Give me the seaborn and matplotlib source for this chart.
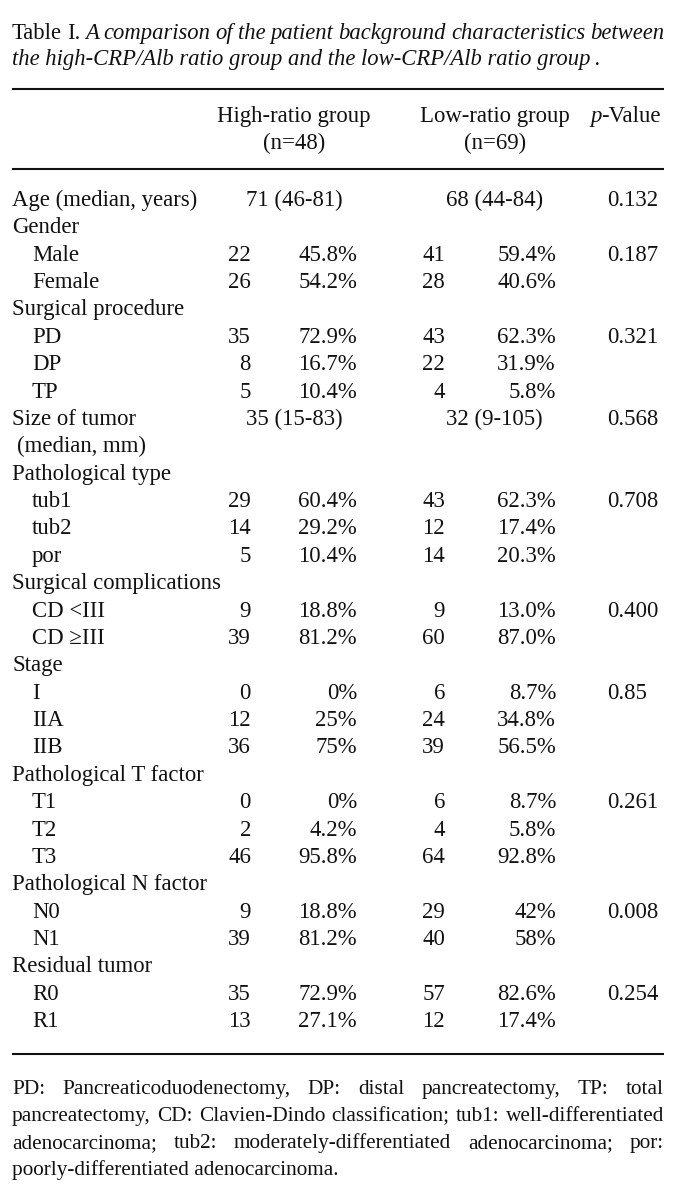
import matplotlib
matplotlib.use("Agg")
import matplotlib.pyplot as plt
import seaborn as sns

# --------------------------------------------------
# Table data
# --------------------------------------------------

row_labels = ["Age (median, years)", "Gender", "Male", "Female",
              "Surgical procedure", "PD", "DP", "TP",
              "Size of tumor", "(median, mm)",
              "Pathological type", "tub1", "tub2", "por",
              "Surgical complications", "CD <III", "CD \u2265III",
              "Stage", "I", "IIA", "IIB",
              "Pathological T factor", "T1", "T2", "T3",
              "Pathological N factor", "N0", "N1",
              "Residual tumor", "R0", "R1"]
# 0 = heading, 1 = sub item, 2 = wrapped heading
row_level = [0, 0, 1, 1, 0, 1, 1, 1, 0, 2, 0, 1, 1, 1, 0, 1, 1,
             0, 1, 1, 1, 0, 1, 1, 1, 0, 1, 1, 0, 1, 1]

high_median = {0: "71 (46-81)", 8: "35 (15-83)"}
low_median = {0: "68 (44-84)", 8: "32 (9-105)"}

high_n = ["", "", "22", "26", "", "35", "8", "5", "", "", "", "29", "14", "5",
          "", "9", "39", "", "0", "12", "36", "", "0", "2", "46", "", "9", "39",
          "", "35", "13"]
high_pct = ["", "", "45.8%", "54.2%", "", "72.9%", "16.7%", "10.4%", "", "",
            "", "60.4%", "29.2%", "10.4%", "", "18.8%", "81.2%", "", "0%",
            "25%", "75%", "", "0%", "4.2%", "95.8%", "", "18.8%", "81.2%",
            "", "72.9%", "27.1%"]
low_n = ["", "", "41", "28", "", "43", "22", "4", "", "", "", "43", "12", "14",
         "", "9", "60", "", "6", "24", "39", "", "6", "4", "64", "", "29", "40",
         "", "57", "12"]
low_pct = ["", "", "59.4%", "40.6%", "", "62.3%", "31.9%", "5.8%", "", "",
           "", "62.3%", "17.4%", "20.3%", "", "13.0%", "87.0%", "", "8.7%",
           "34.8%", "56.5%", "", "8.7%", "5.8%", "92.8%", "", "42%", "58%",
           "", "82.6%", "17.4%"]
p_values = {0: "0.132", 2: "0.187", 5: "0.321", 8: "0.568", 11: "0.708",
            15: "0.400", 18: "0.85", 22: "0.261", 26: "0.008", 29: "0.254"}

title_line1 = [("Table", "normal"), ("I.", "normal"), ("A", "italic"),
               ("comparison", "italic"), ("of", "italic"), ("the", "italic"),
               ("patient", "italic"), ("background", "italic"),
               ("characteristics", "italic"), ("between", "italic")]
title_line2 = "the high-CRP/Alb ratio group and the low-CRP/Alb ratio group\u2009."

footnote = ["PD: Pancreaticoduodenectomy, DP: distal pancreatectomy, TP: total",
            "pancreatectomy, CD: Clavien-Dindo classification; tub1: well-differentiated",
            "adenocarcinoma; tub2: moderately-differentiated adenocarcinoma; por:",
            "poorly-differentiated adenocarcinoma."]

# --------------------------------------------------
# Figure setup
# --------------------------------------------------

sns.set_theme(style="white")
plt.rcParams["font.family"] = ["Liberation Serif", "DejaVu Serif"]

ink = "#111111"
body_size = 16.4
left, right = 12, 664

fig = plt.figure(figsize=(6.78, 11.98), dpi=100)
ax = fig.add_axes([0, 0, 1, 1])
ax.set_xlim(0, 678)
ax.set_ylim(1198, 0)
ax.axis("off")
renderer = fig.canvas.get_renderer()


def fit_size(text, target, style="normal", base=16.0):
    # font size that makes one line of text about target pixels wide
    t = ax.text(0, 0, text, fontsize=base, style=style)
    w = t.get_window_extent(renderer).width
    t.remove()
    return base * target / w


def justify(words, y, size):
    # words: list of (text, style); spread between left and right margins
    texts = [ax.text(0, y, w, fontsize=size, style=s, color=ink, va="baseline")
             for w, s in words]
    widths = [t.get_window_extent(renderer).width for t in texts]
    gap = (right - left - sum(widths)) / (len(texts) - 1)
    x = left
    for t, w in zip(texts, widths):
        t.set_x(x)
        x += w + gap


title_size = fit_size(title_line2, 590, style="italic")
note_size = fit_size(footnote[1], 648)

# title
justify(title_line1, 39, title_size)
ax.text(left, 65, title_line2, fontsize=title_size, style="italic",
        color=ink, va="baseline")

# rules
ax.hlines([89, 169, 1054], left, right, color=ink, lw=1.5)

# header
ax.text(294, 122, "High-ratio group", fontsize=body_size, ha="center",
        va="baseline", color=ink)
ax.text(294, 149, "(n=48)", fontsize=body_size, ha="center",
        va="baseline", color=ink)
ax.text(495, 122, "Low-ratio group", fontsize=body_size, ha="center",
        va="baseline", color=ink)
ax.text(495, 149, "(n=69)", fontsize=body_size, ha="center",
        va="baseline", color=ink)
p_txt = ax.text(590, 122, "p", fontsize=body_size, style="italic",
                va="baseline", color=ink)
pw = p_txt.get_window_extent(renderer).width
ax.text(590 + pw, 122, "-Value", fontsize=body_size, va="baseline", color=ink)

# body rows
indent_x = {0: left, 1: 32, 2: 17}
row_step = 27.37
for i, label in enumerate(row_labels):
    y = 206 + i * row_step
    ax.text(indent_x[row_level[i]], y, label, fontsize=body_size,
            va="baseline", color=ink)
    ax.text(251, y, high_n[i], fontsize=body_size, ha="right",
            va="baseline", color=ink)
    ax.text(357, y, high_pct[i], fontsize=body_size, ha="right",
            va="baseline", color=ink)
    ax.text(445, y, low_n[i], fontsize=body_size, ha="right",
            va="baseline", color=ink)
    ax.text(556, y, low_pct[i], fontsize=body_size, ha="right",
            va="baseline", color=ink)
    if i in high_median:
        ax.text(246, y, high_median[i], fontsize=body_size, va="baseline",
                color=ink)
        ax.text(446, y, low_median[i], fontsize=body_size, va="baseline",
                color=ink)
    if i in p_values:
        ax.text(607, y, p_values[i], fontsize=body_size, va="baseline",
                color=ink)

# footnote
for k, line in enumerate(footnote):
    y = 1094 + k * 27
    if k < len(footnote) - 1:
        justify([(w, "normal") for w in line.split(" ")], y, note_size)
    else:
        ax.text(left, y, line, fontsize=note_size, va="baseline", color=ink)

fig.savefig("out.png", dpi=100, facecolor="white")
